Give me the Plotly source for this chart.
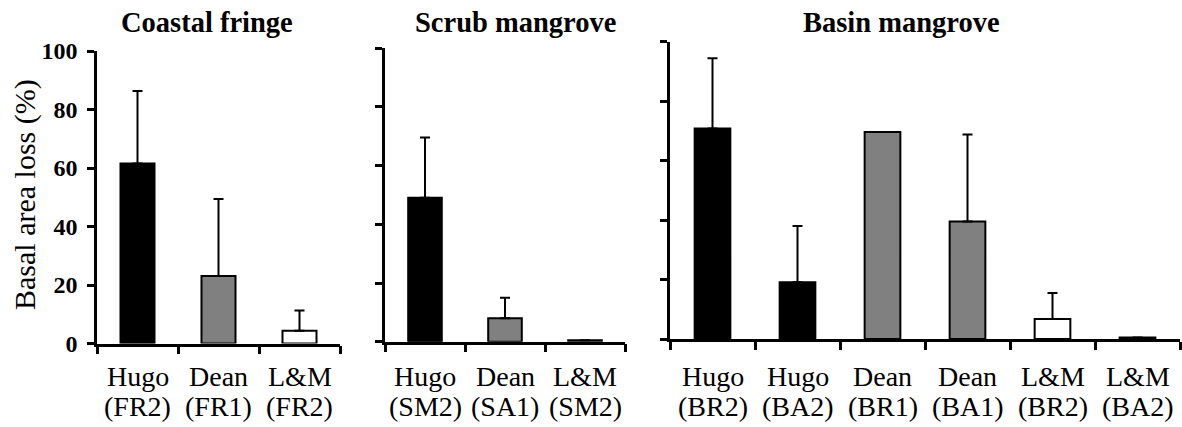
import plotly.graph_objects as go

W, H = 1182, 427
FONT = "Liberation Serif, Times New Roman, serif"

# ---- data ----
panel_titles = ["Coastal fringe", "Scrub mangrove", "Basin mangrove"]

p1_storm = ["Hugo", "Dean", "L&M"]
p1_site = ["(FR2)", "(FR1)", "(FR2)"]
p1_loss = [61.5, 23.1, 4.4]
p1_err = [24.8, 26.3, 6.9]

p2_storm = ["Hugo", "Dean", "L&M"]
p2_site = ["(SM2)", "(SA1)", "(SM2)"]
p2_loss = [49.1, 8.0, 0.5]
p2_err = [20.5, 7.0, None]

p3_storm = ["Hugo", "Hugo", "Dean", "Dean", "L&M", "L&M"]
p3_site = ["(BR2)", "(BA2)", "(BR1)", "(BA1)", "(BR2)", "(BA2)"]
p3_loss = [70.8, 19.1, 69.6, 39.5, 6.7, 0.5]
p3_err = [23.6, 18.9, None, 29.3, 8.8, None]

y_ticks = [0, 20, 40, 60, 80, 100]
y_title = "Basal area loss (%)"

storm_colors = {"Hugo": "#000000", "Dean": "#808080", "L&M": "#ffffff"}

# ---- layout geometry (pixels) ----
x_dom_px = [(97, 340), (385, 625), (670, 1180)]
y_dom_px = [(343.5, 51), (341.7, 48.3), (339, 41.7)]   # (zero, top)
title_x_px = [207, 515, 901]
label_y_px = [376.5, 406.5]

panels = [
    (p1_storm, p1_site, p1_loss, p1_err),
    (p2_storm, p2_site, p2_loss, p2_err),
    (p3_storm, p3_site, p3_loss, p3_err),
]

fig = go.Figure()
annotations = []
layout = {}

for i, (storm, site, loss, err) in enumerate(panels):
    n = i + 1
    xa = "x" if n == 1 else f"x{n}"
    ya = "y" if n == 1 else f"y{n}"
    cats = [f"{s} {t}" for s, t in zip(storm, site)]
    fig.add_trace(go.Bar(
        x=cats, y=loss, xaxis=xa, yaxis=ya,
        marker=dict(color=[storm_colors[s] for s in storm],
                    line=dict(color="black", width=2)),
        error_y=dict(type="data", symmetric=False, array=err,
                     arrayminus=[0] * len(err), color="black",
                     thickness=2, width=5),
        showlegend=False,
    ))
    xd = x_dom_px[i]
    yd = y_dom_px[i]
    layout["xaxis" if n == 1 else f"xaxis{n}"] = dict(
        domain=[xd[0] / W, xd[1] / W], anchor=ya, type="category",
        range=[-0.5, len(cats) - 0.5], showline=True, linecolor="black",
        linewidth=2.5, ticks="outside", tickson="boundaries", ticklen=8,
        tickwidth=2.5, tickcolor="black", showticklabels=False,
        showgrid=False, zeroline=False, fixedrange=True, automargin=False,
    )
    layout["yaxis" if n == 1 else f"yaxis{n}"] = dict(
        domain=[1 - yd[0] / H, 1 - yd[1] / H], anchor=xa,
        range=[0, 100], tickvals=y_ticks, ticktext=[str(v) for v in y_ticks],
        showline=True, linecolor="black", linewidth=2.5,
        ticks="outside", ticklen=7, tickwidth=2.5, tickcolor="black",
        showticklabels=(n == 1), ticklabelstandoff=5,
        tickfont=dict(family=FONT, size=24, color="black", weight="bold"),
        showgrid=False, zeroline=False, fixedrange=True, automargin=False,
    )
    # category labels (two lines)
    for c, s, t in zip(cats, storm, site):
        for txt, ly in zip((s, t), label_y_px):
            annotations.append(dict(x=c, y=1 - ly / H, xref=xa, yref="paper",
                                    text=txt, showarrow=False,
                                    xanchor="center", yanchor="middle",
                                    font=dict(family=FONT, size=28,
                                              color="black")))
    # panel title
    annotations.append(dict(x=title_x_px[i] / W, y=1 - 22 / H, xref="paper",
                            yref="paper", text=panel_titles[i], showarrow=False,
                            xanchor="center", yanchor="middle",
                            font=dict(family=FONT, size=28.5, color="black",
                                      weight="bold")))

annotations.append(dict(x=25 / W, y=1 - 195 / H, xref="paper", yref="paper",
                        text=y_title, textangle=-90, showarrow=False,
                        xanchor="center", yanchor="middle",
                        font=dict(family=FONT, size=30, color="black")))

fig.update_layout(
    width=W, height=H,
    margin=dict(l=0, r=0, t=0, b=0, pad=0, autoexpand=False),
    paper_bgcolor="white", plot_bgcolor="white", template="none",
    bargap=0.58, showlegend=False, annotations=annotations, **layout,
)

fig.write_html(
    "out.html",
    config={"displayModeBar": False},
    post_script="document.body.style.margin='0';"
                "document.body.style.overflow='hidden';",
)
